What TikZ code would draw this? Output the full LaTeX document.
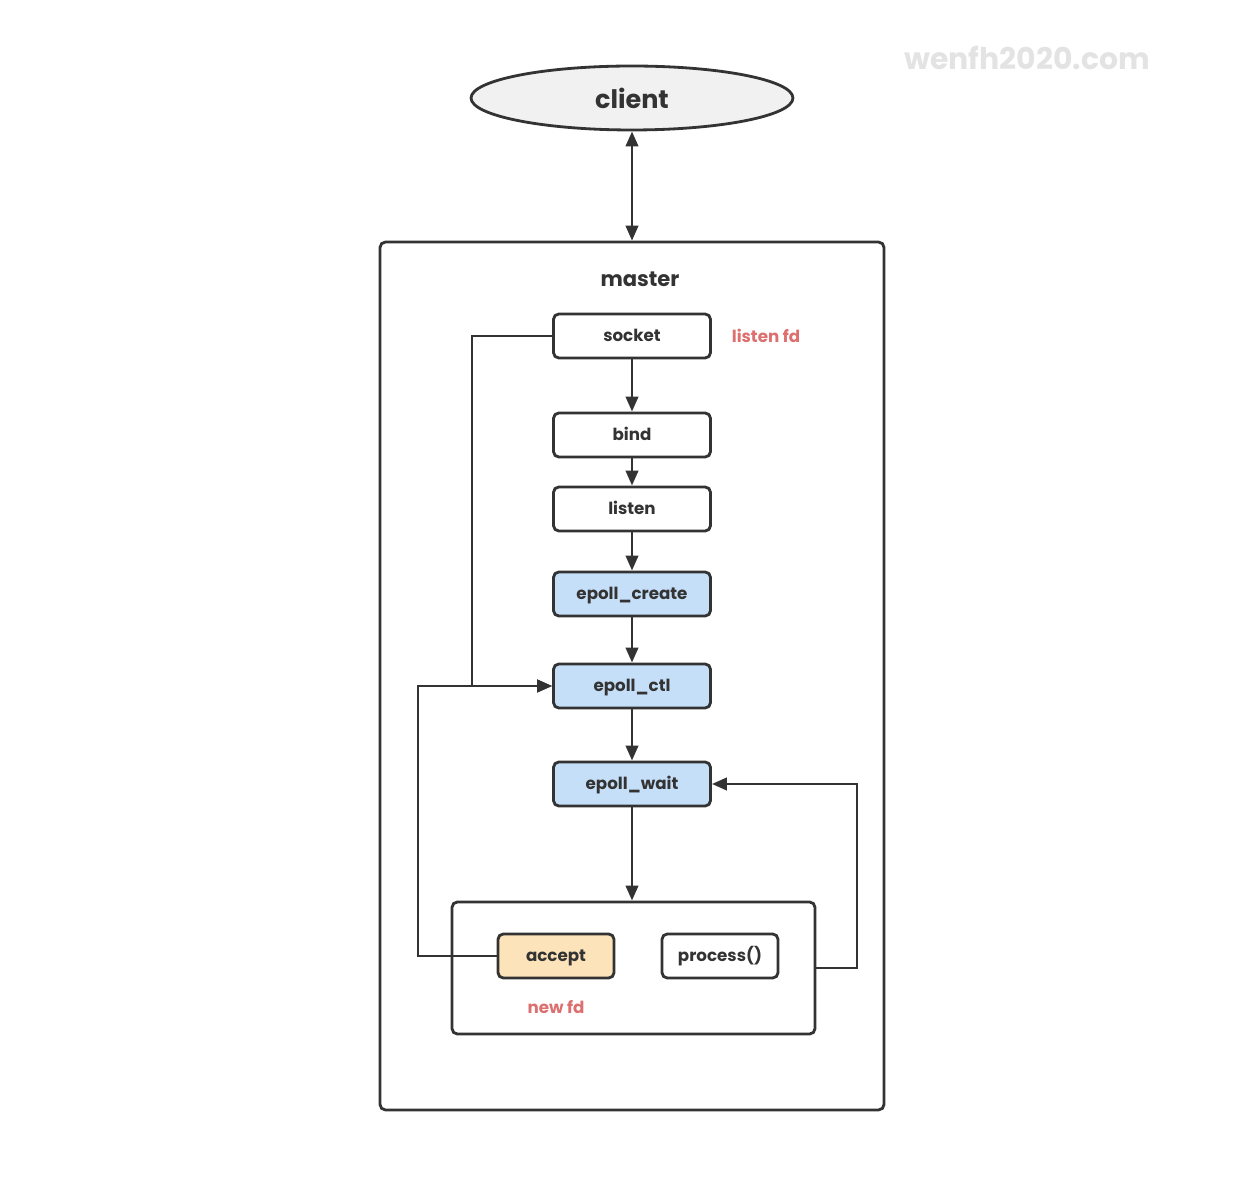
\documentclass[tikz,border=0pt]{standalone}
\usepackage{fontspec}
\setmainfont{Poppins}
\usetikzlibrary{arrows.meta,shapes.geometric}
\definecolor{ln}{HTML}{333333}
\definecolor{bluef}{HTML}{C5DFF8}
\definecolor{orangef}{HTML}{FCE3BA}
\definecolor{grayf}{HTML}{F1F1F1}
\definecolor{redt}{HTML}{DD6F6F}
\definecolor{wm}{HTML}{E3E3E3}
\begin{document}
\begin{tikzpicture}[x=0.02cm,y=-0.02cm,
  line width=1.6pt,
  every node/.style={inner sep=0pt, text=ln},
  stepbox/.style={draw=ln, rounded corners=3pt, minimum width=3.14cm, minimum height=0.88cm, text height=1.5ex, text depth=0.35ex, font=\fontsize{9.5}{11}\selectfont\bfseries},
  smallbox/.style={stepbox, minimum width=2.32cm},
  frame/.style={draw=ln, rounded corners=3pt},
  tip/.style={Triangle[length=8.5pt,width=7pt]},
  conn/.style={draw=ln, -{Triangle[length=8.5pt,width=7pt]}},
  redlab/.style={text=redt, font=\fontsize{9.5}{11}\selectfont\bfseries}]
\useasboundingbox (0,0) rectangle (1242,1192);
\node[text=wm, font=\fontsize{17}{20}\selectfont\bfseries] (wmark) at (1027,58) {wenfh2020.com};
\node[draw=ln, fill=grayf, ellipse, minimum width=6.44cm, minimum height=1.28cm, font=\fontsize{14.5}{17}\selectfont\bfseries] (client) at (632,98) {client};
\node[frame, minimum width=10.08cm, minimum height=17.36cm] (master) at (632,676) {};
\node[font=\fontsize{12}{14}\selectfont\bfseries] (mlabel) at (640,279) {master};
\node[stepbox] (socket) at (632,336) {socket};
\node[redlab] (lfd) at (766,336) {listen fd};
\node[stepbox] (bind) at (632,435) {bind};
\node[stepbox] (listen) at (632,509) {listen};
\node[stepbox, fill=bluef] (ecreate) at (632,594) {epoll\_create};
\node[stepbox, fill=bluef] (ectl) at (632,686) {epoll\_ctl};
\node[stepbox, fill=bluef] (ewait) at (632,784) {epoll\_wait};
\node[frame, minimum width=7.26cm, minimum height=2.64cm] (inner) at (633.5,968) {};
\node[smallbox, fill=orangef] (accept) at (556,956) {accept};
\node[smallbox] (process) at (720,956) {process()};
\node[redlab] (nfd) at (556,1007) {new fd};
\draw[draw=ln, {Triangle[length=8.5pt,width=7pt]}-{Triangle[length=8.5pt,width=7pt]}] (client.south) -- (client.south |- master.north);
\draw[conn] (socket) -- (bind);
\draw[conn] (bind) -- (listen);
\draw[conn] (listen) -- (ecreate);
\draw[conn] (ecreate) -- (ectl);
\draw[conn] (ectl) -- (ewait);
\draw[conn] (ewait.south) -- (ewait.south |- inner.north);
\draw[conn] (socket.west) -- (472,336) -- (472,686) -- (ectl.west);
\draw[conn] (accept.west) -- (418,956) -- (418,686) -- (ectl.west);
\draw[conn] (inner.east) -- (857,968) -- (857,784) -- (ewait.east);
\end{tikzpicture}
\end{document}
